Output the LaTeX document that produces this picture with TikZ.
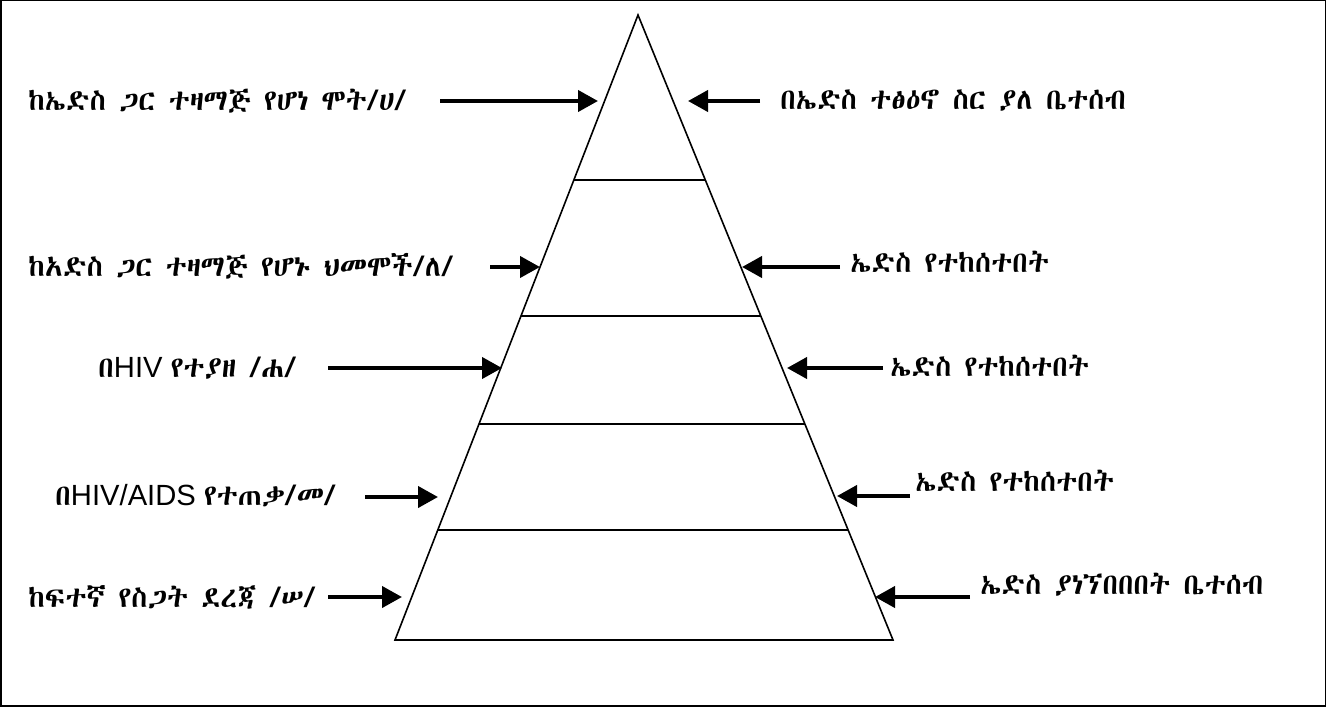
\documentclass[tikz,border=0pt]{standalone}
\usepackage{fontspec}
\setmainfont{Liberation Sans}
\IfFontExistsTF{Abyssinica SIL}{%
    \newfontfamily\ethfont{Abyssinica SIL}}{%
    \IfFontExistsTF{FreeSerif}{%
        \newfontfamily\ethfont{FreeSerif}}{%
        \newfontfamily\ethfont{DejaVu Sans}}}
\usetikzlibrary{arrows.meta}
\usetikzlibrary{calc}

\begin{document}
\begin{tikzpicture}[
    x=0.5pt, y=-0.5pt,
    levelLabel/.style={
        anchor=west, inner sep=0pt,
        font=\fontsize{14.6}{17}\selectfont
    },
    pointer/.style={-{Triangle[length=10pt,width=10.5pt]}, line width=2pt}
]
\useasboundingbox (0,0) rectangle (1326,706);
\draw[line width=1pt] (0.5,0.5) rectangle (1325.5,705.5);

% pyramid and its levels
\coordinate (top) at (638,15);
\coordinate (bl) at (395,640);
\coordinate (br) at (893,640);
\draw[line width=0.8pt] (top) -- (bl) -- (br) -- cycle;
\foreach \t in {0.264,0.482,0.654,0.824}
    \draw[line width=0.8pt] ($(top)!\t!(bl)$) -- ($(top)!\t!(br)$);

% labels
\node[levelLabel] (lblL1) at (28,101) {\ethfont ከኤድስ ጋር ተዛማጅ የሆነ ሞት/ሀ/};
\node[levelLabel] (lblR1) at (780,101) {\ethfont በኤድስ ተፅዕኖ ስር ያለ ቤተሰብ};
\node[levelLabel] (lblL2) at (28,266) {\ethfont ከአድስ ጋር ተዛማጅ የሆኑ ህመሞች/ለ/};
\node[levelLabel] (lblR2) at (850,262) {\ethfont ኤድስ የተከሰተበት};
\node[levelLabel] (lblL3) at (98,368) {{\ethfont በ}HIV {\ethfont የተያዘ /ሐ/}};
\node[levelLabel] (lblR3) at (890,366) {\ethfont ኤድስ የተከሰተበት};
\node[levelLabel] (lblL4) at (55,496) {{\ethfont በ}HIV/AIDS {\ethfont የተጠቃ/መ/}};
\node[levelLabel] (lblR4) at (915,481) {\ethfont ኤድስ የተከሰተበት};
\node[levelLabel] (lblL5) at (28,597) {\ethfont ከፍተኛ የስጋት ደረጃ /ሠ/};
\node[levelLabel] (lblR5) at (980,585) {\ethfont ኤድስ ያነኘበበበት ቤተሰብ};

% arrow ends
\coordinate (tailL1) at (440,101); \coordinate (tipL1) at (598,101);
\coordinate (tailR1) at (760,101); \coordinate (tipR1) at (688,101);
\coordinate (tailL2) at (490,267); \coordinate (tipL2) at (540,267);
\coordinate (tailR2) at (840,267); \coordinate (tipR2) at (742,267);
\coordinate (tailL3) at (328,368); \coordinate (tipL3) at (502,368);
\coordinate (tailR3) at (883,368); \coordinate (tipR3) at (787,368);
\coordinate (tailL4) at (365,497); \coordinate (tipL4) at (438,497);
\coordinate (tailR4) at (910,496); \coordinate (tipR4) at (837,496);
\coordinate (tailL5) at (328,597); \coordinate (tipL5) at (402,597);
\coordinate (tailR5) at (970,597); \coordinate (tipR5) at (875,597);

\foreach \n in {1,...,5} {
    \draw[pointer] (tailL\n) -- (tipL\n);
    \draw[pointer] (tailR\n) -- (tipR\n);
}
\end{tikzpicture}
\end{document}
